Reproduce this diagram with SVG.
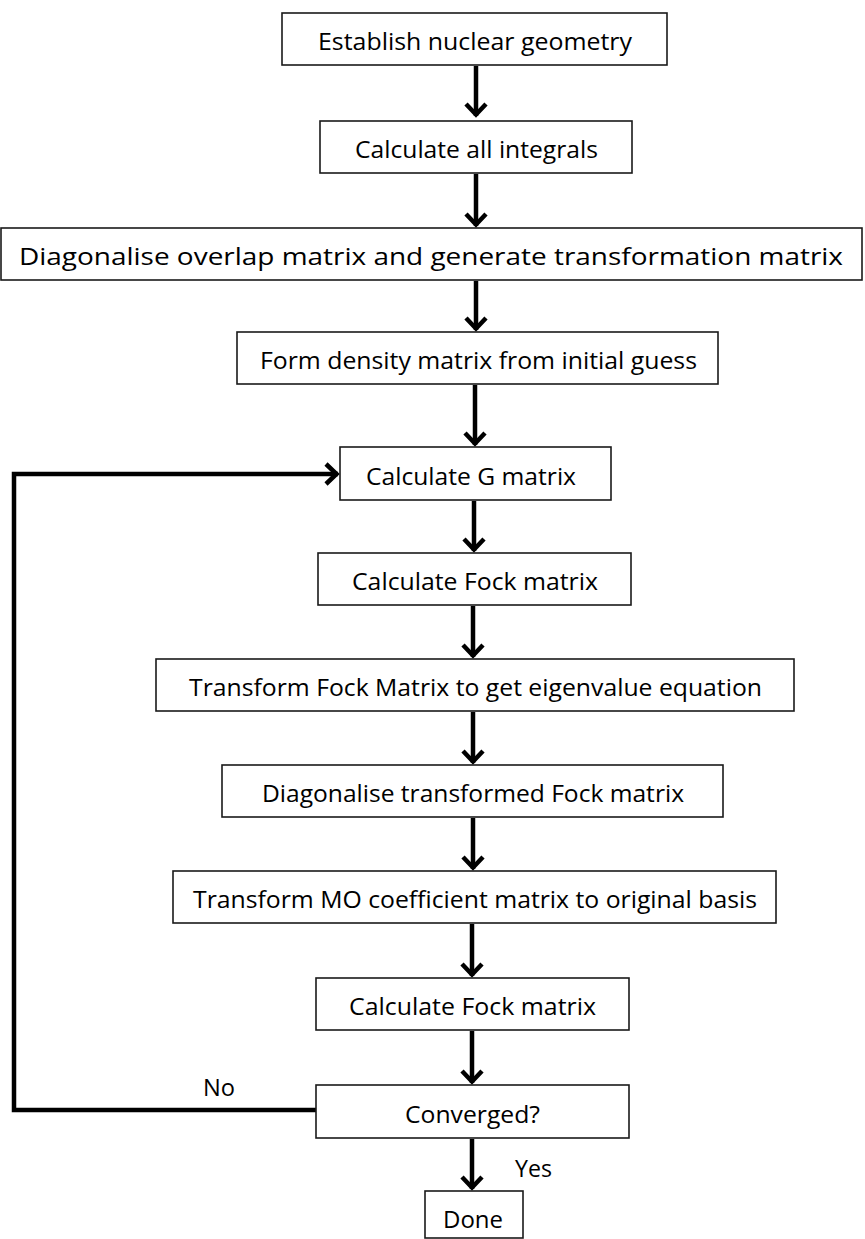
<svg xmlns="http://www.w3.org/2000/svg" width="865" height="1239" viewBox="0 0 865 1239">
  <defs>
    <style>
      .box { fill: #ffffff; stroke: #1a1a1a; stroke-width: 1.6; }
      .lbl { font-family: "Open Sans", "Noto Sans", "Liberation Sans", sans-serif; font-size: 24px; fill: #000000; }
      .flow { fill: none; stroke: #000000; stroke-width: 4.5; }
      .head { fill: none; stroke: #000000; stroke-width: 4.5; stroke-linejoin: miter; stroke-linecap: butt; }
    </style>
    <!-- open chevron arrowhead -->
    <marker id="chev" viewBox="-16 -13 20 26" refX="0" refY="0" markerWidth="20" markerHeight="26" markerUnits="userSpaceOnUse" orient="auto">
      <path class="head" d="M-12,-10 L-1.5,0 L-12,10"/>
    </marker>
  </defs>
  <rect width="865" height="1239" fill="#ffffff"/>

  <!-- connectors -->
  <g id="connectors">
    <line class="flow" x1="476" y1="66" x2="476" y2="116" marker-end="url(#chev)"/>
    <line class="flow" x1="476" y1="174" x2="476" y2="226" marker-end="url(#chev)"/>
    <line class="flow" x1="476" y1="281" x2="476" y2="330" marker-end="url(#chev)"/>
    <line class="flow" x1="475" y1="385" x2="475" y2="445" marker-end="url(#chev)"/>
    <line class="flow" x1="474" y1="501" x2="474" y2="551" marker-end="url(#chev)"/>
    <line class="flow" x1="473" y1="606" x2="473" y2="657" marker-end="url(#chev)"/>
    <line class="flow" x1="473" y1="712" x2="473" y2="763" marker-end="url(#chev)"/>
    <line class="flow" x1="473" y1="818" x2="473" y2="869" marker-end="url(#chev)"/>
    <line class="flow" x1="472" y1="924" x2="472" y2="976" marker-end="url(#chev)"/>
    <line class="flow" x1="472" y1="1031" x2="472" y2="1083" marker-end="url(#chev)"/>
    <line class="flow" x1="472" y1="1139" x2="472" y2="1189" marker-end="url(#chev)"/>
    <!-- "No" feedback loop back to the G matrix step -->
    <polyline class="flow" points="316,1110 14,1110 14,474 338,474" marker-end="url(#chev)"/>
    <text class="lbl" x="203" y="1096" textLength="32" lengthAdjust="spacingAndGlyphs">No</text>
    <text class="lbl" x="515" y="1177" textLength="37" lengthAdjust="spacingAndGlyphs">Yes</text>
  </g>

  <g id="n1">
    <rect class="box" x="282" y="13" width="385" height="52"/>
    <text class="lbl" x="318" y="50" textLength="314" lengthAdjust="spacingAndGlyphs">Establish nuclear geometry</text>
  </g>
  <g id="n2">
    <rect class="box" x="320" y="121" width="312" height="52"/>
    <text class="lbl" x="355" y="158" textLength="243" lengthAdjust="spacingAndGlyphs">Calculate all integrals</text>
  </g>
  <g id="n3">
    <rect class="box" x="1" y="228" width="861" height="52"/>
    <text class="lbl" x="19" y="265" textLength="824" lengthAdjust="spacingAndGlyphs">Diagonalise overlap matrix and generate transformation matrix</text>
  </g>
  <g id="n4">
    <rect class="box" x="237" y="332" width="481" height="52"/>
    <text class="lbl" x="260" y="369" textLength="437" lengthAdjust="spacingAndGlyphs">Form density matrix from initial guess</text>
  </g>
  <g id="n5">
    <rect class="box" x="340" y="447" width="271" height="53"/>
    <text class="lbl" x="366" y="485" textLength="210" lengthAdjust="spacingAndGlyphs">Calculate G matrix</text>
  </g>
  <g id="n6">
    <rect class="box" x="318" y="553" width="313" height="52"/>
    <text class="lbl" x="352" y="590" textLength="246" lengthAdjust="spacingAndGlyphs">Calculate Fock matrix</text>
  </g>
  <g id="n7">
    <rect class="box" x="156" y="659" width="638" height="52"/>
    <text class="lbl" x="189" y="696" textLength="573" lengthAdjust="spacingAndGlyphs">Transform Fock Matrix to get eigenvalue equation</text>
  </g>
  <g id="n8">
    <rect class="box" x="222" y="765" width="501" height="52"/>
    <text class="lbl" x="262" y="802" textLength="422" lengthAdjust="spacingAndGlyphs">Diagonalise transformed Fock matrix</text>
  </g>
  <g id="n9">
    <rect class="box" x="173" y="871" width="603" height="52"/>
    <text class="lbl" x="193" y="908" textLength="564" lengthAdjust="spacingAndGlyphs">Transform MO coefficient matrix to original basis</text>
  </g>
  <g id="n10">
    <rect class="box" x="316" y="978" width="313" height="52"/>
    <text class="lbl" x="349" y="1015" textLength="247" lengthAdjust="spacingAndGlyphs">Calculate Fock matrix</text>
  </g>
  <g id="n11">
    <rect class="box" x="316" y="1085" width="313" height="53"/>
    <text class="lbl" x="405" y="1123" textLength="135" lengthAdjust="spacingAndGlyphs">Converged?</text>
  </g>
  <g id="n12">
    <rect class="box" x="425" y="1191" width="98" height="47"/>
    <text class="lbl" x="443" y="1228" textLength="60" lengthAdjust="spacingAndGlyphs">Done</text>
  </g>
</svg>
